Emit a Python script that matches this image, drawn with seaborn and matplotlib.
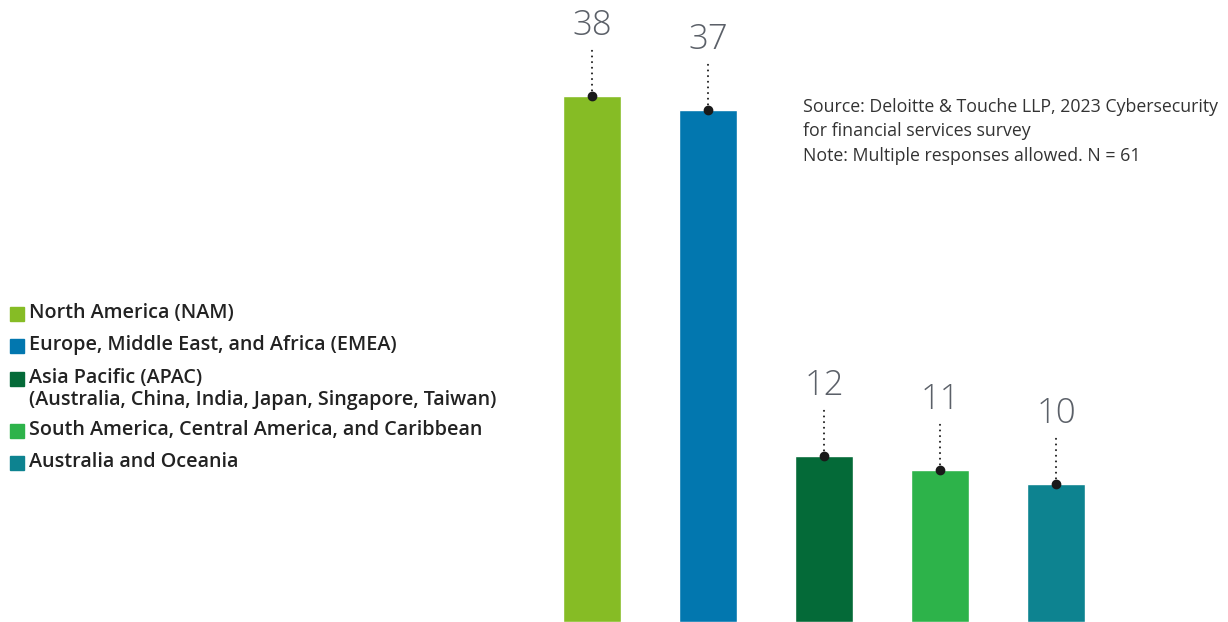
import matplotlib
matplotlib.use("Agg")
import pandas as pd
import seaborn as sns
import matplotlib.pyplot as plt
from matplotlib.patches import Rectangle

# data
regions = ["North America (NAM)",
           "Europe, Middle East, and Africa (EMEA)",
           "Asia Pacific (APAC)\n(Australia, China, India, Japan, Singapore, Taiwan)",
           "South America, Central America, and Caribbean",
           "Australia and Oceania"]
values = [38, 37, 12, 11, 10]
colors = ["#86BC25", "#0277AF", "#046A38", "#2DB34A", "#0D8390"]
source_note = ("Source: Deloitte & Touche LLP, 2023 Cybersecurity\n"
               "for financial services survey\n"
               "Note: Multiple responses allowed. N = 61")

sns.set_theme(style="white")
plt.rcParams['font.family'] = ['Open Sans', 'DejaVu Sans']

W, H = 1228, 622
fig = plt.figure(figsize=(W / 100, H / 100), dpi=100)
ax = fig.add_axes([0, 0, 1, 1])

df = pd.DataFrame({"region": regions, "value": values})
sns.barplot(data=df, x="region", y="value", hue="region", palette=colors,
            width=0.5, legend=False, ax=ax, saturation=1)

# pixel layout: first bar centred at x=592, step 116 px, 13.84 px per unit
step = 116
ax.set_xlim((0 - 592) / step, (W - 592) / step)
ppu = 13.84
ax.set_ylim(0, H / ppu)
ax.set_axis_off()

for i, v in enumerate(values):
    ax.plot([i, i], [v, v + 3.6], color="#222222", linestyle=(0, (0.01, 2.7)),
            linewidth=1.5, dash_capstyle="round")
    ax.plot(i, v, marker="o", markersize=6, color="#1a1a1a")
    ax.text(i, v + 5.05, str(v), ha="center", va="center", fontsize=25,
            fontweight="light", color="#5b6068")

# source note
fig.text(803 / W, 1 - 98 / H, source_note, ha="left", va="top", fontsize=12.8,
         color="#333333", linespacing=1.45)

# legend built by hand
rows_y = [314, 346, 379, 431, 463]
for lab, c, y in zip(regions, colors, rows_y):
    fig.patches.append(Rectangle((10 / W, 1 - (y + 7) / H), 14 / W, 14 / H,
                                 transform=fig.transFigure, color=c))
    fig.text(29 / W, 1 - (y - 11) / H, lab, ha="left", va="top", fontsize=14.2,
             fontweight="semibold", color="#222222", linespacing=1.15)

fig.savefig("out.png", dpi=100)
